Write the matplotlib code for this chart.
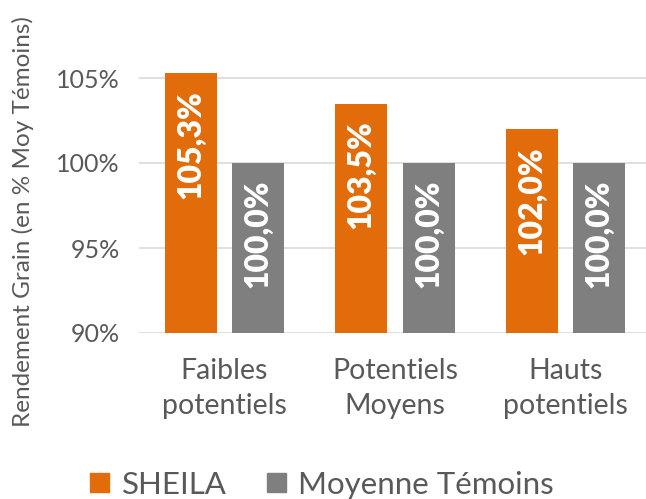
import numpy as np
import matplotlib.pyplot as plt
from matplotlib.patches import Patch

plt.rcParams['font.family'] = ['Lato', 'DejaVu Sans']

categories = ['Faibles\npotentiels', 'Potentiels\nMoyens', 'Hauts\npotentiels']
sheila = [105.3, 103.5, 102.0]
temoins = [100.0, 100.0, 100.0]
yticks = [90, 95, 100, 105]

orange = '#E36C0A'
gris = '#7F7F7F'
txt = '#595959'

fig = plt.figure(figsize=(6.46, 4.99), dpi=100)
ax = fig.add_axes([139/646, 1-333/499, 512/646, (333-44)/499])

x = np.arange(len(categories))
w = 0.306
off = 0.197
b1 = ax.bar(x - off, np.array(sheila) - 90, w, bottom=90, color=orange, zorder=3)
b2 = ax.bar(x + off, np.array(temoins) - 90, w, bottom=90, color=gris, zorder=3)

# etiquettes dans les barres
for bars, vals in [(b1, sheila), (b2, temoins)]:
    for r, v in zip(bars, vals):
        ax.text(r.get_x() + r.get_width()/2, r.get_y() + r.get_height() - 1.0,
                f'{v:.1f}%'.replace('.', ','), rotation=90, ha='center', va='top',
                color='white', fontsize=23, fontweight='heavy', zorder=4)

ax.set_xlim(-0.5, 2.5)
ax.set_ylim(90, 107)
ax.set_yticks(yticks)
ax.set_yticklabels([f'{t}%' for t in yticks])
ax.set_xticks(x)
ax.set_xticklabels(categories)
ax.grid(axis='y', color='#D9D9D9', linewidth=1.2, zorder=0)
for s in ax.spines.values():
    s.set_visible(False)
ax.tick_params(axis='y', length=0, labelsize=18, colors=txt, pad=14)
ax.tick_params(axis='x', length=0, labelsize=20.5, colors=txt, pad=18)
for lab in ax.get_xticklabels():
    lab.set_linespacing(1.45)

fig.text(23/646, 1-222/499, 'Rendement Grain (en % Moy Témoins)', rotation=90,
         ha='center', va='center', fontsize=17.5, color=txt)

handles = [Patch(color=orange, label='SHEILA'), Patch(color=gris, label='Moyenne Témoins')]
fig.legend(handles=handles, loc='center', bbox_to_anchor=(0.499, 0.029), ncol=2,
           frameon=False, fontsize=22.5, labelcolor=txt, handlelength=0.6, handleheight=0.6,
           handletextpad=0.4, columnspacing=1.3)

fig.savefig('out.png', dpi=100)
